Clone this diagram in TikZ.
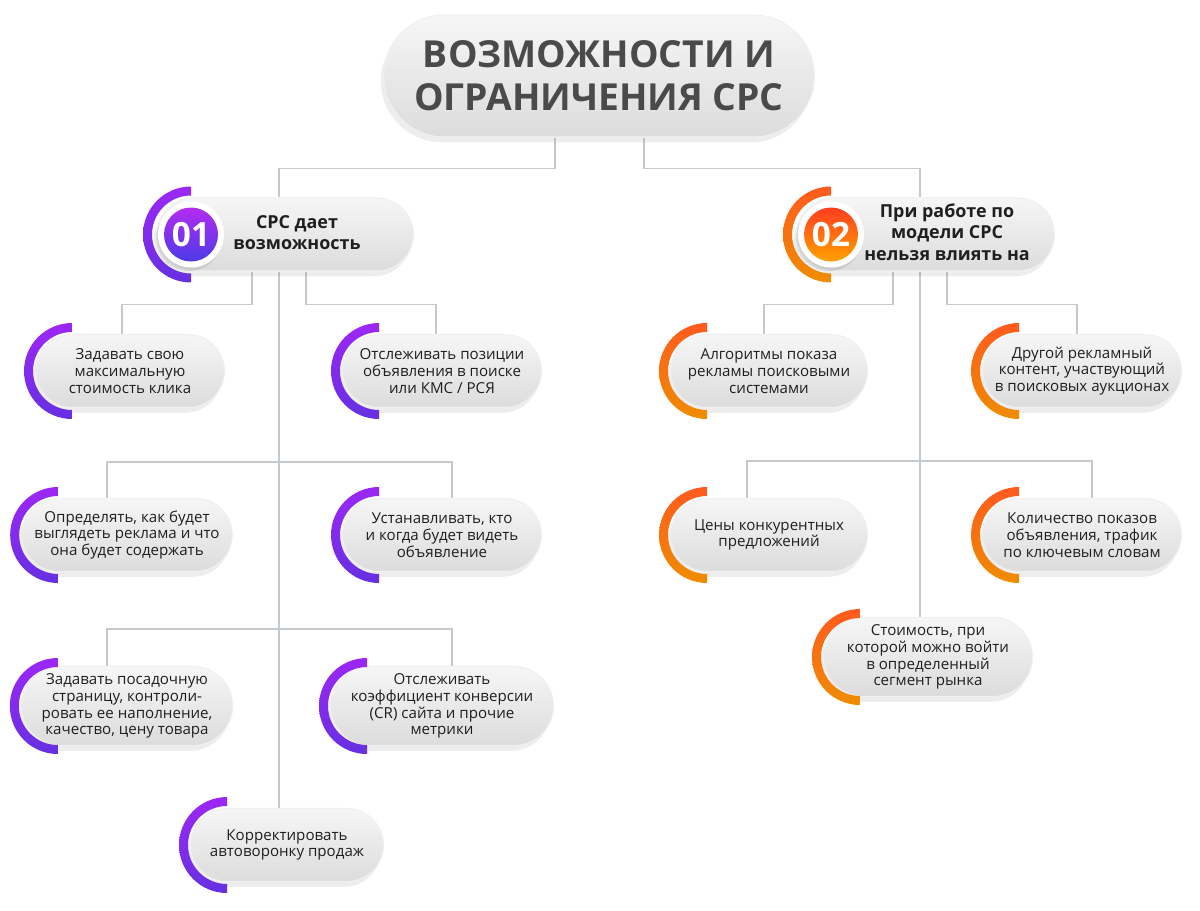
\documentclass[tikz,border=0pt]{standalone}
\usepackage{fontspec}
\setmainfont{Open Sans}
\usetikzlibrary{shapes.misc,shadows,calc}
\definecolor{connc}{HTML}{C4C9CE}
\definecolor{pilltop}{HTML}{F6F6F6}
\definecolor{pillbot}{HTML}{DCDCDC}
\definecolor{txt}{HTML}{1F1F1F}
\definecolor{ttl}{HTML}{4A4A4A}
\definecolor{ptop}{HTML}{9D27F5}
\definecolor{pbot}{HTML}{6630E2}
\definecolor{pc1}{HTML}{B52CF0}
\definecolor{pc2}{HTML}{4B3BE8}
\definecolor{otop}{HTML}{FF5A1E}
\definecolor{obot}{HTML}{EF8D00}
\definecolor{oc1}{HTML}{FF3D1F}
\definecolor{oc2}{HTML}{FFA200}
\pgfdeclarelayer{bg}
\pgfsetlayers{bg,main}
\newcommand{\shiftr}[2]{\hspace*{#1}\begin{tabular}{@{}c@{}}#2\end{tabular}}
\newcommand{\sidearc}[3]{%
  \shade[top color=#2, bottom color=#3] ($(#1)+(90:0.96cm)$) arc[start angle=90,end angle=270,radius=0.96cm]
    -- ($(#1)+(270:0.78cm)$) arc[start angle=270,end angle=90,radius=0.78cm] -- cycle;}
\begin{document}
\begin{tikzpicture}[x=0.02cm,y=0.02cm,
  pill/.style={rounded rectangle, draw=white!88!gray, line width=0.6pt,
    top color=pilltop, bottom color=pillbot,
    drop shadow={shadow xshift=-1.5pt, shadow yshift=-3pt, opacity=0.14},
    minimum height=1.46cm, inner sep=2pt, align=center, text=txt,
    font=\fontsize{8.6}{9.5}\selectfont},
  tall/.style={minimum height=1.58cm},
  headp/.style={pill, font=\fontsize{10.2}{12.2}\selectfont\bfseries},
  titlep/.style={pill, minimum width=8.76cm, minimum height=2.44cm, text=ttl,
    font=\fontsize{21.2}{24.5}\selectfont\bfseries},
  numc/.style={circle, minimum size=1.08cm, inner sep=0pt, text=white,
    font=\fontsize{19}{20}\selectfont\bfseries, shading angle=45},
  conn/.style={draw=connc, line width=0.9pt}
]
\useasboundingbox (0,0) rectangle (1200,-910);

% title
\node[titlep] (title) at (599,-76) {ВОЗМОЖНОСТИ И\\ОГРАНИЧЕНИЯ CPC};

% headers
\node[headp, minimum width=5.28cm] (h1) at (285,-234.5) {\shiftr{0.48cm}{CPC дает\\возможность}};
\node[headp, minimum width=5.3cm] (h2) at (925.5,-234.5) {\shiftr{0.86cm}{При работе по\\модели CPC\\нельзя влиять на}};

\coordinate (c1c) at ($(h1.west)+(35,0)$);
\coordinate (c2c) at ($(h2.west)+(35,0)$);
\fill[white, drop shadow={shadow xshift=-1pt, shadow yshift=-2pt, opacity=0.2}] (c1c) circle (0.66cm);
\fill[white, drop shadow={shadow xshift=-1pt, shadow yshift=-2pt, opacity=0.2}] (c2c) circle (0.66cm);
\sidearc{c1c}{ptop}{pbot}
\sidearc{c2c}{otop}{obot}
\node[numc, top color=pc1, bottom color=pc2] (c1) at (c1c) {01};
\node[numc, top color=oc1, bottom color=oc2] (c2) at (c2c) {02};

% left children
\node[pill, minimum width=3.92cm] (n1) at (130,-371) {Задавать свою\\максимальную\\стоимость клика};
\node[pill, minimum width=4.12cm] (n2) at (442,-371) {Отслеживать позиции\\объявления в поиске\\или КМС / РСЯ};
\node[pill, minimum width=4.08cm] (n3) at (127,-535) {Определять, как будет\\выглядеть реклама и что\\она будет содержать};
\node[pill, minimum width=4.12cm] (n4) at (442,-535) {Устанавливать, кто\\и когда будет видеть\\объявление};
\node[pill, tall, minimum width=4.12cm] (n5) at (127,-706) {Задавать посадочную\\страницу, контроли-\\ровать ее наполнение,\\качество, цену товара};
\node[pill, tall, minimum width=4.12cm] (n6) at (442,-706) {Отслеживать\\коэффициент конверсии\\(CR) сайта и прочие\\метрики};
\node[pill, minimum width=4.0cm] (n7) at (287,-845) {Корректировать\\автоворонку продаж};

% right children
\node[pill, minimum width=4.08cm] (r1) at (769,-371) {Алгоритмы показа\\рекламы поисковыми\\системами};
\node[pill, minimum width=4.12cm] (r2) at (1082,-371) {Другой рекламный\\контент, участвующий\\в поисковых аукционах};
\node[pill, minimum width=4.08cm] (r3) at (769,-535) {Цены конкурентных\\предложений};
\node[pill, minimum width=4.12cm] (r4) at (1082,-535) {Количество показов\\объявления, трафик\\по ключевым словам};
\node[pill, tall, minimum width=4.32cm] (r5) at (928,-657) {Стоимость, при\\которой можно войти\\в определенный\\сегмент рынка};

% arcs
\foreach \n in {n1,n2,n3,n4,n5,n6,n7}{\sidearc{$(\n.west)+(37,0)$}{ptop}{pbot}}
\foreach \n in {r1,r2,r3,r4,r5}{\sidearc{$(\n.west)+(37,0)$}{otop}{obot}}

% connectors
\begin{pgfonlayer}{bg}
\draw[conn] ([xshift=-0.88cm]title.south) -- ++(0,-31) -| ([xshift=-0.12cm]h1.north);
\draw[conn] ([xshift=0.9cm]title.south) -- ++(0,-31) -| ([xshift=-0.11cm]h2.north);
\draw[conn] ([xshift=-0.66cm]h1.south) -- ++(0,-33) -| ([xshift=-0.16cm]n1.north);
\draw[conn] ([xshift=0.42cm]h1.south) -- ++(0,-33) -| ([xshift=-0.12cm]n2.north);
\draw[conn] ([xshift=-0.12cm]h1.south) -- ([xshift=-0.16cm]n7.north);
\coordinate (j2) at (279,-462);
\coordinate (j3) at (279,-629);
\draw[conn] ([xshift=-0.4cm]n3.north) |- (j2) -| ([xshift=0.2cm]n4.north);
\draw[conn] ([xshift=-0.4cm]n5.north) |- (j3) -| ([xshift=0.2cm]n6.north);
\draw[conn] ([xshift=-0.65cm]h2.south) -- ++(0,-33) -| ([xshift=-0.1cm]r1.north);
\draw[conn] ([xshift=0.43cm]h2.south) -- ++(0,-33) -| ([xshift=-0.1cm]r2.north);
\draw[conn] ([xshift=-0.11cm]h2.south) -- ([xshift=-0.16cm]r5.north);
\coordinate (k2) at (920,-461);
\draw[conn] ([xshift=-0.44cm]r3.north) |- (k2) -| ([xshift=0.2cm]r4.north);
\end{pgfonlayer}
\end{tikzpicture}
\end{document}
